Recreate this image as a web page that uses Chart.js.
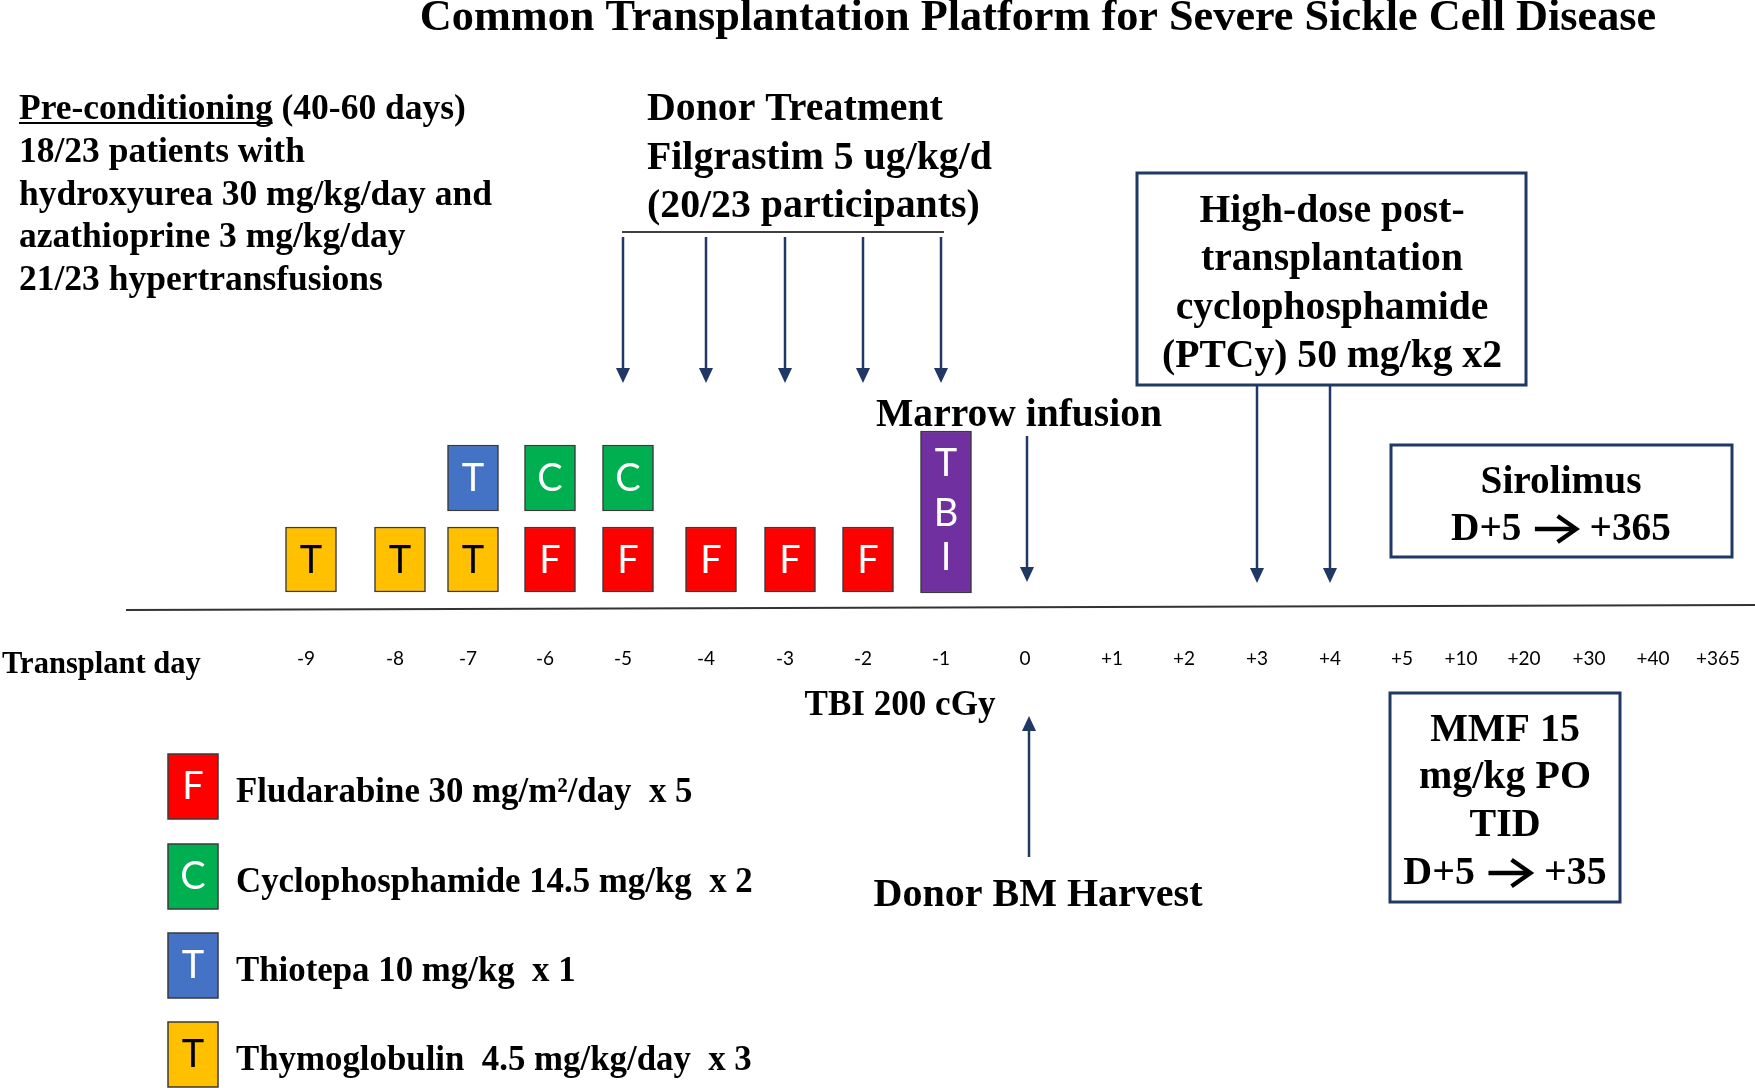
<!DOCTYPE html>
<html>
<head>
<meta charset="utf-8">
<title>Common Transplantation Platform for Severe Sickle Cell Disease</title>
<script src="https://cdn.jsdelivr.net/npm/chart.js@4.4.1/dist/chart.umd.min.js"></script>
<style>
  html, body { margin: 0; padding: 0; background: #fff; }
  #wrap { width: 1755px; height: 1088px; }
</style>
</head>
<body>
<div id="wrap"><canvas id="platform" width="1755" height="1088"></canvas></div>
<script>
// Timeline categories (transplant days)
const dayLabels = ['-9', '-8', '-7', '-6', '-5', '-4', '-3', '-2', '-1', '0',
                   '+1', '+2', '+3', '+4', '+5', '+10', '+20', '+30', '+40', '+365'];

// Conditioning: days on which each drug is given
const thymoglobulinDays = ['-9', '-8', '-7'];
const thiotepaDays = ['-7'];
const cyclophosphamideDays = ['-6', '-5'];
const fludarabineDays = ['-6', '-5', '-4', '-3', '-2'];
const tbiDays = ['-1'];

// Events shown with arrows
const filgrastimDays = ['-5', '-4', '-3', '-2', '-1'];
const infusionDays = ['0'];
const ptcyDays = ['+3', '+4'];
const harvestDays = ['0'];

// Legend
const legendLetters = ['F', 'C', 'T', 'T'];
const legendColors = ['#FF0000', '#00B050', '#4472C4', '#FFC000'];
const legendLetterColors = ['#fff', '#fff', '#fff', '#000'];
const legendNames = ['Fludarabine 30 mg/m\u00B2/day  x 5', 'Cyclophosphamide 14.5 mg/kg  x 2',
                     'Thiotepa 10 mg/kg  x 1', 'Thymoglobulin  4.5 mg/kg/day  x 3'];

// Text blocks
const titleText = 'Common Transplantation Platform for Severe Sickle Cell Disease';
const preLines = ['18/23 patients with', 'hydroxyurea 30 mg/kg/day and', 'azathioprine 3 mg/kg/day', '21/23 hypertransfusions'];
const donorLines = ['Donor Treatment', 'Filgrastim 5 ug/kg/d', '(20/23 participants)'];
const ptcyLines = ['High-dose post-', 'transplantation', 'cyclophosphamide', '(PTCy) 50 mg/kg x2'];
const siroLines = ['Sirolimus'];
const siroRange = ['D+5', '+365'];
const mmfLines = ['MMF 15', 'mg/kg PO', 'TID'];
const mmfRange = ['D+5', '+35'];

// ---- layout (pixels) ----
const W = 1755, H = 1088;
const COL_X = [306, 395, 468, 545, 623, 706, 785, 863, 941, 1025,
               1112, 1184, 1257, 1330, 1402, 1461, 1524, 1589, 1653, 1718];
const BOX_DX = 5;
const LOWER_ROW = [527, 592];
const UPPER_ROW = [445, 511];
const TALL_ROW = [431, 593];
const TEXT_DY = 3;
const NAVY = '#1F3864';
const SERIF = '"Liberation Serif", "Times New Roman", serif';
const SANS = 'Lato, "Open Sans", sans-serif';

const colOf = d => COL_X[dayLabels.indexOf(d)];
const boxes = (days, row) => days.map(d => ({ x: colOf(d) + BOX_DX, y: row }));

function fitSize(ctx, lines, width) {
    ctx.font = `bold 100px ${SERIF}`;
    const w = Math.max(...lines.map(t => ctx.measureText(t).width));
    return 100 * width / w;
}

function drawBlock(ctx, lines, size, x, ys, align) {
    ctx.font = `bold ${size}px ${SERIF}`;
    ctx.textAlign = align;
    ctx.textBaseline = 'middle';
    ctx.fillStyle = '#000';
    lines.forEach((t, i) => ctx.fillText(t, x, ys[i] + TEXT_DY));
}

// "D+5 -> +365" style line, with a drawn chevron arrow
function drawRange(ctx, parts, size, cx, y) {
    ctx.font = `bold ${size}px ${SERIF}`;
    ctx.textBaseline = 'middle';
    ctx.textAlign = 'left';
    ctx.fillStyle = '#000';
    const w0 = ctx.measureText(parts[0]).width;
    const w1 = ctx.measureText(parts[1]).width;
    const gap = 0.34 * size, aw = 1.05 * size;
    const total = w0 + gap + aw + gap + w1;
    let x = cx - total / 2;
    const yy = y + TEXT_DY;
    ctx.fillText(parts[0], x, yy);
    x += w0 + gap;
    const ay = yy - 1;
    ctx.strokeStyle = '#000';
    ctx.lineWidth = 0.11 * size;
    ctx.lineCap = 'butt';
    ctx.lineJoin = 'miter';
    ctx.beginPath();
    ctx.moveTo(x, ay);
    ctx.lineTo(x + aw - 2, ay);
    ctx.stroke();
    ctx.beginPath();
    ctx.moveTo(x + aw * 0.55, ay - 0.33 * size);
    ctx.lineTo(x + aw, ay);
    ctx.lineTo(x + aw * 0.55, ay + 0.33 * size);
    ctx.stroke();
    x += aw + gap;
    ctx.fillText(parts[1], x, yy);
}

function arrow(ctx, x, from, tip) {
    const dir = Math.sign(tip - from);
    ctx.strokeStyle = NAVY;
    ctx.fillStyle = NAVY;
    ctx.lineWidth = 2.5;
    ctx.beginPath();
    ctx.moveTo(x, from);
    ctx.lineTo(x, tip - dir * 10);
    ctx.stroke();
    ctx.beginPath();
    ctx.moveTo(x, tip);
    ctx.lineTo(x - 7, tip - dir * 15);
    ctx.lineTo(x + 7, tip - dir * 15);
    ctx.closePath();
    ctx.fill();
}

// letters inside the drug boxes
const letterPlugin = {
    id: 'letters',
    afterDatasetsDraw(chart) {
        const ctx = chart.ctx;
        ctx.save();
        ctx.font = `38px ${SANS}`;
        ctx.textAlign = 'center';
        ctx.textBaseline = 'middle';
        chart.data.datasets.forEach((ds, i) => {
            chart.getDatasetMeta(i).data.forEach(el => {
                const { x, y, base } = el.getProps(['x', 'y', 'base'], true);
                const top = Math.min(y, base), h = Math.abs(base - y);
                ctx.fillStyle = ds.letterColor;
                if (ds.letter.length === 1) {
                    ctx.fillText(ds.letter, x, top + h / 2 + 1);
                } else {
                    [0.2, 0.51, 0.78].forEach((f, k) => ctx.fillText(ds.letter[k], x, top + h * f));
                }
            });
        });
        ctx.restore();
    }
};

// timeline axis, arrows and all annotations
const annotationPlugin = {
    id: 'annotations',
    afterDraw(chart) {
        const ctx = chart.ctx;
        const xs = chart.scales.x;
        const px = d => xs.getPixelForValue(colOf(d));
        ctx.save();

        // axis line
        ctx.strokeStyle = '#333';
        ctx.lineWidth = 2;
        ctx.beginPath();
        ctx.moveTo(126, 610);
        ctx.lineTo(W, 605);
        ctx.stroke();

        // tick labels
        ctx.font = `19px ${SANS}`;
        ctx.fillStyle = '#000';
        ctx.textAlign = 'center';
        ctx.textBaseline = 'middle';
        dayLabels.forEach(d => ctx.fillText(d, px(d), 659));

        drawBlock(ctx, ['Transplant day'], fitSize(ctx, ['Transplant day'], 199), 2, [662], 'left');

        // title
        const titleSize = fitSize(ctx, [titleText], 1237);
        ctx.font = `bold ${titleSize}px ${SERIF}`;
        ctx.textAlign = 'center';
        ctx.textBaseline = 'alphabetic';
        ctx.fillStyle = '#000';
        ctx.fillText(titleText, 1038, 30);

        // pre-conditioning block
        const preSize = fitSize(ctx, preLines, 473);
        ctx.font = `bold ${preSize}px ${SERIF}`;
        ctx.textAlign = 'left';
        ctx.textBaseline = 'middle';
        const head = 'Pre-conditioning';
        ctx.fillText(head, 19, 107 + TEXT_DY);
        const hw = ctx.measureText(head).width;
        ctx.fillText(' (40-60 days)', 19 + hw, 107 + TEXT_DY);
        ctx.lineWidth = 2;
        ctx.strokeStyle = '#000';
        ctx.beginPath();
        ctx.moveTo(19, 123);
        ctx.lineTo(19 + hw, 123);
        ctx.stroke();
        drawBlock(ctx, preLines, preSize, 19, [150, 193, 235, 278], 'left');

        // donor treatment
        drawBlock(ctx, donorLines, fitSize(ctx, donorLines, 345), 647, [107, 156, 204], 'left');
        ctx.strokeStyle = '#000';
        ctx.lineWidth = 1.5;
        ctx.beginPath();
        ctx.moveTo(622, 232);
        ctx.lineTo(944, 232);
        ctx.stroke();
        filgrastimDays.forEach(d => arrow(ctx, px(d), 237, 383));

        // marrow infusion
        drawBlock(ctx, ['Marrow infusion'], fitSize(ctx, ['Marrow infusion'], 286), 1019, [413], 'center');
        infusionDays.forEach(d => arrow(ctx, px(d) + 2, 436, 582));

        // PTCy box
        ctx.strokeStyle = NAVY;
        ctx.lineWidth = 3;
        ctx.strokeRect(1137, 173, 389, 212);
        drawBlock(ctx, ptcyLines, fitSize(ctx, ptcyLines, 340), 1332, [209, 257, 306, 354], 'center');
        ptcyDays.forEach(d => arrow(ctx, px(d), 386, 583));

        // sirolimus box
        ctx.strokeStyle = NAVY;
        ctx.lineWidth = 3;
        ctx.strokeRect(1391, 445, 341, 112);
        const siroSize = fitSize(ctx, siroLines, 161);
        drawBlock(ctx, siroLines, siroSize, 1561, [480], 'center');
        drawRange(ctx, siroRange, siroSize, 1561, 527);

        // MMF box
        ctx.strokeStyle = NAVY;
        ctx.lineWidth = 3;
        ctx.strokeRect(1390, 693, 230, 209);
        const mmfSize = fitSize(ctx, ['mg/kg PO'], 172);
        drawBlock(ctx, mmfLines, mmfSize, 1505, [728, 775, 823], 'center');
        drawRange(ctx, mmfRange, mmfSize, 1505, 871);

        // TBI / harvest
        drawBlock(ctx, ['TBI 200 cGy'], fitSize(ctx, ['TBI 200 cGy'], 191), 900, [703], 'center');
        harvestDays.forEach(d => arrow(ctx, px(d) + 4, 857, 716));
        drawBlock(ctx, ['Donor BM Harvest'], fitSize(ctx, ['Donor BM Harvest'], 329), 1038, [893], 'center');

        // legend
        const legY = [754, 844, 933, 1022];
        const legSize = fitSize(ctx, [legendNames[1]], 517);
        legendNames.forEach((name, i) => {
            ctx.fillStyle = legendColors[i];
            ctx.fillRect(168, legY[i], 50, 65);
            ctx.strokeStyle = '#3a3a3a';
            ctx.lineWidth = 1.5;
            ctx.strokeRect(168, legY[i], 50, 65);
            ctx.font = `38px ${SANS}`;
            ctx.fillStyle = legendLetterColors[i];
            ctx.textAlign = 'center';
            ctx.textBaseline = 'middle';
            ctx.fillText(legendLetters[i], 193, legY[i] + 33);
            drawBlock(ctx, [name], legSize, 236, [legY[i] + 36], 'left');
        });

        ctx.restore();
    }
};

new Chart(document.getElementById('platform'), {
    type: 'bar',
    data: {
        datasets: [
            { label: 'Thymoglobulin', letter: 'T', letterColor: '#000', data: boxes(thymoglobulinDays, LOWER_ROW), backgroundColor: '#FFC000' },
            { label: 'Thiotepa', letter: 'T', letterColor: '#fff', data: boxes(thiotepaDays, UPPER_ROW), backgroundColor: '#4472C4' },
            { label: 'Cyclophosphamide', letter: 'C', letterColor: '#fff', data: boxes(cyclophosphamideDays, UPPER_ROW), backgroundColor: '#00B050' },
            { label: 'Fludarabine', letter: 'F', letterColor: '#fff', data: boxes(fludarabineDays, LOWER_ROW), backgroundColor: '#FF0000' },
            { label: 'TBI', letter: 'TBI', letterColor: '#fff', data: boxes(tbiDays, TALL_ROW), backgroundColor: '#7030A0' }
        ]
    },
    options: {
        responsive: false,
        animation: false,
        events: [],
        layout: { padding: 0 },
        datasets: {
            bar: { barThickness: 51, grouped: false, borderWidth: 1.5, borderColor: '#3a3a3a', borderSkipped: false }
        },
        plugins: { legend: { display: false }, tooltip: { enabled: false } },
        scales: {
            x: { type: 'linear', min: 0, max: W, offset: false, display: false },
            y: { type: 'linear', min: 0, max: H, reverse: true, display: false }
        }
    },
    plugins: [letterPlugin, annotationPlugin]
});
</script>
</body>
</html>
